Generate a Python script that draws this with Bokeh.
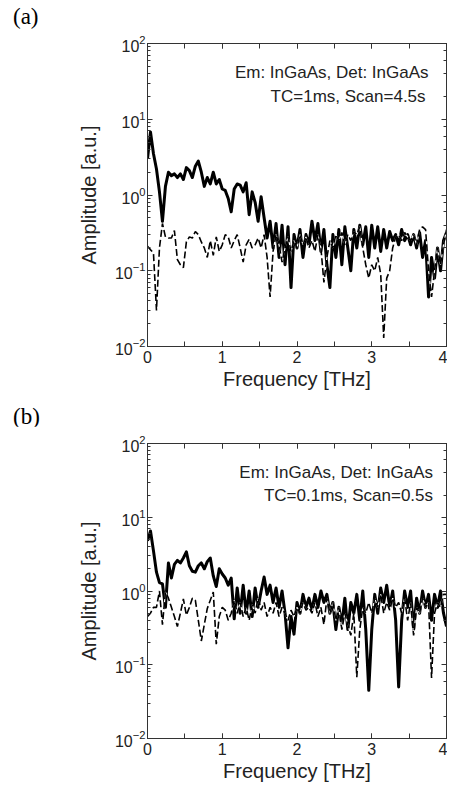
from bokeh.plotting import figure
from bokeh.layouts import column
from bokeh.models import Range1d, LogAxis, LinearAxis, SingleIntervalTicker, Label, LogTicker, Div
from bokeh.embed import file_html
from bokeh.resources import INLINE

# frequency grid (THz), step 0.04
freq = [round(0.04 * i, 2) for i in range(101)]

# Panel (a): TC=1ms, Scan=4.5s
a_solid = [3.0, 6.8, 3.5, 2.2, 1.1, 0.45, 1.3, 2.0, 1.8, 1.9,
           1.7, 1.9, 1.6, 2.3, 2.1, 1.7, 2.4, 2.8, 2.0, 1.3,
           1.7, 1.4, 2.0, 1.4, 1.6, 1.2, 1.15, 0.9, 0.6, 1.2,
           1.4, 1.35, 1.1, 1.45, 0.55, 1.1, 0.8, 0.45, 0.95, 0.5,
           0.27, 0.45, 0.2, 0.42, 0.15, 0.4, 0.12, 0.38, 0.06, 0.3,
           0.2, 0.35, 0.15, 0.3, 0.22, 0.45, 0.25, 0.42, 0.18, 0.35,
           0.12, 0.06, 0.3, 0.15, 0.35, 0.12, 0.38, 0.2, 0.1, 0.35,
           0.2, 0.4, 0.22, 0.38, 0.15, 0.4, 0.2, 0.38, 0.18, 0.35,
           0.2, 0.33, 0.25, 0.3, 0.22, 0.35, 0.25, 0.3, 0.22, 0.3,
           0.2, 0.32, 0.15, 0.25, 0.045, 0.15, 0.08, 0.2, 0.1, 0.25,
           0.32]
a_dashed = [0.21, 0.19, 0.17, 0.03, 0.2, 0.42, 0.28, 0.27, 0.27, 0.34,
            0.14, 0.12, 0.11, 0.24, 0.28, 0.27, 0.33, 0.3, 0.24, 0.2,
            0.15, 0.25, 0.16, 0.28, 0.18, 0.22, 0.3, 0.28, 0.2, 0.25,
            0.3, 0.2, 0.13, 0.22, 0.26, 0.2, 0.22, 0.27, 0.2, 0.3,
            0.15, 0.045, 0.18, 0.3, 0.22, 0.13, 0.2, 0.28, 0.18, 0.25,
            0.2, 0.3, 0.22, 0.28, 0.2, 0.25, 0.18, 0.3, 0.2, 0.07,
            0.15, 0.25, 0.2, 0.3, 0.25, 0.32, 0.22, 0.3, 0.25, 0.33,
            0.3, 0.38, 0.2, 0.12, 0.08, 0.12, 0.1, 0.15, 0.09, 0.013,
            0.08, 0.1, 0.2, 0.28, 0.3, 0.25, 0.32, 0.28, 0.25, 0.3,
            0.22, 0.35, 0.38, 0.35, 0.1, 0.045, 0.1, 0.2, 0.12, 0.22,
            0.35]

# Panel (b): TC=0.1ms, Scan=0.5s
b_solid = [4.8, 6.5, 3.5, 1.8, 1.3, 1.25, 0.6, 2.4, 1.5, 2.3,
           2.6, 2.4, 2.8, 3.4, 2.2, 1.85, 1.8, 2.2, 2.4, 2.0,
           2.5, 2.8, 1.6, 1.15, 2.0, 1.7, 1.5, 1.2, 1.5, 0.42,
           1.1, 0.5, 1.2, 0.5, 1.0, 0.45, 1.1, 0.6, 1.0, 1.55,
           0.9, 1.2, 0.7, 1.1, 0.6, 1.0, 0.5, 0.17, 0.45, 0.26,
           0.7, 0.5, 0.9, 0.6, 0.8, 0.55, 0.9, 0.6, 1.0, 0.7,
           0.9, 0.5, 0.7, 0.3, 0.6, 0.35, 0.8, 0.3, 0.7, 0.5,
           0.9, 0.4, 1.0, 0.3, 0.045, 0.3, 0.9, 0.5, 1.1, 0.7,
           1.2, 0.6, 1.0, 0.4, 0.05, 0.4, 1.0, 0.6, 1.0, 0.3,
           0.8, 0.5, 1.0, 0.6, 0.9, 0.4, 0.9, 0.6, 1.0, 0.5,
           0.33]
b_dashed = [0.45, 0.5, 0.6, 0.6, 1.0, 0.35, 0.97, 0.8, 0.6, 0.45,
            0.33, 0.5, 0.78, 0.47, 0.6, 0.8, 0.75, 0.4, 0.21, 0.35,
            0.58, 0.75, 0.97, 0.19, 0.45, 0.6, 0.55, 0.4, 0.5, 0.75,
            0.5, 0.7, 0.45, 0.6, 0.4, 0.65, 0.5, 0.8, 0.55, 0.7,
            0.45, 0.6, 0.5, 0.7, 0.45, 0.6, 0.5, 0.4, 0.55, 0.45,
            0.6, 0.5, 0.7, 0.55, 0.6, 0.5, 0.7, 0.45, 0.6, 0.35,
            0.8, 0.5, 0.7, 0.4, 0.6, 0.3, 0.5, 0.35, 0.25, 0.5,
            0.068, 0.3, 0.6, 0.5, 0.7, 0.5, 0.8, 0.6, 0.9, 0.5,
            0.7, 0.55, 0.8, 0.6, 0.7, 0.5, 0.8, 0.4, 0.7, 0.25,
            0.6, 0.5, 0.8, 0.6, 0.7, 0.066, 0.5, 0.7, 0.6, 0.9,
            0.9]

panel_tags = ["(a)", "(b)"]
line1_texts = ["Em: InGaAs, Det: InGaAs", "Em: InGaAs, Det: InGaAs"]
line2_texts = ["TC=1ms, Scan=4.5s", "TC=0.1ms, Scan=0.5s"]

SANS = "Liberation Sans"
AX_COLOR = "#333333"
TXT = "#222222"
W = 447


def style_axis(ax, show_labels):
    ax.axis_line_color = AX_COLOR
    ax.major_tick_line_color = AX_COLOR
    ax.minor_tick_line_color = AX_COLOR
    ax.major_tick_in = 5
    ax.major_tick_out = 0
    ax.minor_tick_in = 3
    ax.minor_tick_out = 0
    ax.major_label_text_font = SANS
    ax.major_label_text_color = TXT
    if show_labels:
        ax.major_label_text_font_size = "16px"
        ax.major_label_standoff = 4
    else:
        ax.major_label_text_font_size = "1px"
        ax.major_label_text_alpha = 0
        ax.major_label_standoff = 0


def make_tag(idx, pad):
    return Div(text=panel_tags[idx], width=W, height=30, margin=0,
               styles={"font-family": "Liberation Serif", "font-size": "23px",
                       "padding-left": "13px", "padding-top": f"{pad}px",
                       "color": "black", "line-height": "26px"})


def make_panel(idx, solid, dashed, height, btop, bbot, tx1, tx2):
    p = figure(width=W, height=height,
               x_range=Range1d(0, 4), y_range=Range1d(0.01, 100),
               y_axis_type="log", output_backend="svg", toolbar_location=None,
               min_border_left=147, min_border_right=1,
               min_border_top=btop, min_border_bottom=bbot)
    p.xgrid.visible = False
    p.ygrid.visible = False
    p.outline_line_color = AX_COLOR
    p.outline_line_width = 1
    p.background_fill_color = "white"
    p.border_fill_color = "white"

    p.xaxis.ticker = SingleIntervalTicker(interval=1, num_minor_ticks=2)
    p.xaxis.axis_label = "Frequency [THz]"
    p.xaxis.axis_label_text_font = SANS
    p.xaxis.axis_label_text_font_style = "normal"
    p.xaxis.axis_label_text_font_size = "20px"
    p.xaxis.axis_label_standoff = 2
    p.xaxis.axis_label_text_color = TXT
    style_axis(p.xaxis[0], True)
    p.xaxis.minor_tick_in = 5

    p.yaxis.axis_label = "Amplitude [a.u.]"
    p.yaxis.axis_label_text_font = SANS
    p.yaxis.axis_label_text_font_style = "normal"
    p.yaxis.axis_label_text_font_size = "20px"
    p.yaxis.axis_label_standoff = 12
    p.yaxis.axis_label_text_color = TXT
    style_axis(p.yaxis[0], True)
    p.yaxis.major_label_standoff = 2

    top_ax = LinearAxis(ticker=SingleIntervalTicker(interval=1, num_minor_ticks=2))
    style_axis(top_ax, False)
    top_ax.minor_tick_in = 5
    p.add_layout(top_ax, "above")
    right_ax = LogAxis(ticker=LogTicker())
    style_axis(right_ax, False)
    p.add_layout(right_ax, "right")

    p.line(freq, solid, line_color="black", line_width=3, line_join="round")
    p.line(freq, dashed, line_color="white", line_width=1.2)
    p.line(freq, dashed, line_color="black", line_width=1.6, line_dash="7 3")

    p.add_layout(Label(x=tx1, y=41, text=line1_texts[idx], text_align="right",
                       text_baseline="middle", text_font=SANS,
                       text_font_size="17px", text_color=TXT))
    p.add_layout(Label(x=tx2, y=20, text=line2_texts[idx], text_align="right",
                       text_baseline="middle", text_font=SANS,
                       text_font_size="17px", text_color=TXT))
    return p


tag_a = make_tag(0, 4)
pa = make_panel(0, a_solid, a_dashed, 366, 13, 50, 3.76, 3.72)
tag_b = make_tag(1, 8)
pb = make_panel(1, b_solid, b_dashed, 361, 17, 49, 3.82, 3.82)

layout = column(tag_a, pa, tag_b, pb, spacing=0)
open("out.html", "w").write(file_html(layout, INLINE))
